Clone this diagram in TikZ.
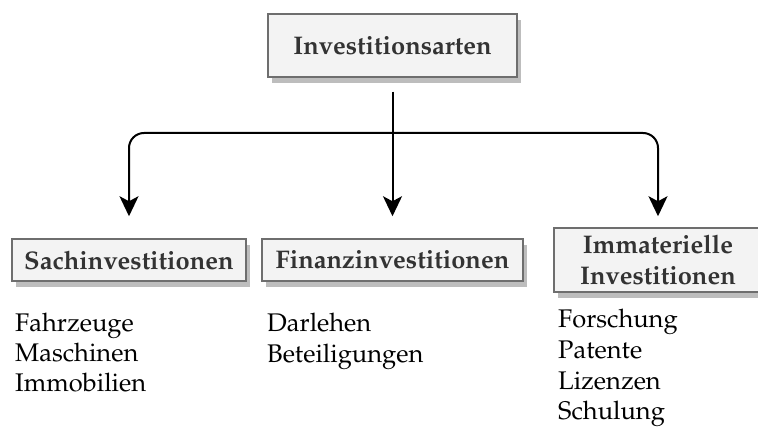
\documentclass[tikz,border=0pt]{standalone}
\usepackage[T1]{fontenc}
\renewcommand{\rmdefault}{ppl}
\usetikzlibrary{arrows.meta,shadows}

\definecolor{boxfill}{HTML}{F3F3F3}
\definecolor{boxline}{HTML}{6E6E6E}
\definecolor{boxtext}{HTML}{333333}
\definecolor{shadowgrey}{HTML}{BDBDBD}

\begin{document}
\begin{tikzpicture}[x=1pt,y=-1pt,
  catbox/.style={draw=boxline, line width=1.5pt, fill=boxfill, text=boxtext,
    font=\fontsize{25.5}{31}\selectfont\bfseries, inner sep=0pt, align=center,
    drop shadow={shadow xshift=4pt, shadow yshift=-6pt, fill=shadowgrey, opacity=1}},
  item/.style={anchor=base west, inner sep=0pt, font=\fontsize{25.5}{30}\selectfont},
  link/.style={line width=2pt, -{Stealth[length=20pt,width=19pt,inset=5pt]},
    rounded corners=15pt}]

  \useasboundingbox (0,0) rectangle (758,427);
  \clip (0,0) rectangle (758,427);

  % category boxes
  \node[catbox, minimum width=249pt, minimum height=63pt] (top) at (392.5,45.5) {Investitionsarten};
  \node[catbox, minimum width=234pt, minimum height=42pt] (sach) at (129,260) {Sachinvestitionen};
  \node[catbox, minimum width=261pt, minimum height=42pt] (fin) at (392.5,260) {Finanzinvestitionen};
  \node[catbox, minimum width=208pt, minimum height=64pt] (imm) at (658,260) {Immaterielle\\Investitionen};

  % branching connectors
  \coordinate (hub) at (392.5,133);
  \draw[link, shorten <=14pt, shorten >=22pt] (top.south) -- (fin.north);
  \draw[link, shorten >=22pt] (hub) -| (sach.north);
  \draw[link, shorten >=11pt] (hub) -| (imm.north);

  % examples under each category
  \node[item] (s1) at (15,332) {Fahrzeuge};
  \node[item] (s2) at (15,362) {Maschinen};
  \node[item] (s3) at (15,392) {Immobilien};

  \node[item] (f1) at (267,332) {Darlehen};
  \node[item] (f2) at (267,363) {Beteiligungen};

  \node[item] (i1) at (558,328) {Forschung};
  \node[item] (i2) at (558,359) {Patente};
  \node[item] (i3) at (558,390) {Lizenzen};
  \node[item] (i4) at (558,420) {Schulung};
\end{tikzpicture}
\end{document}
